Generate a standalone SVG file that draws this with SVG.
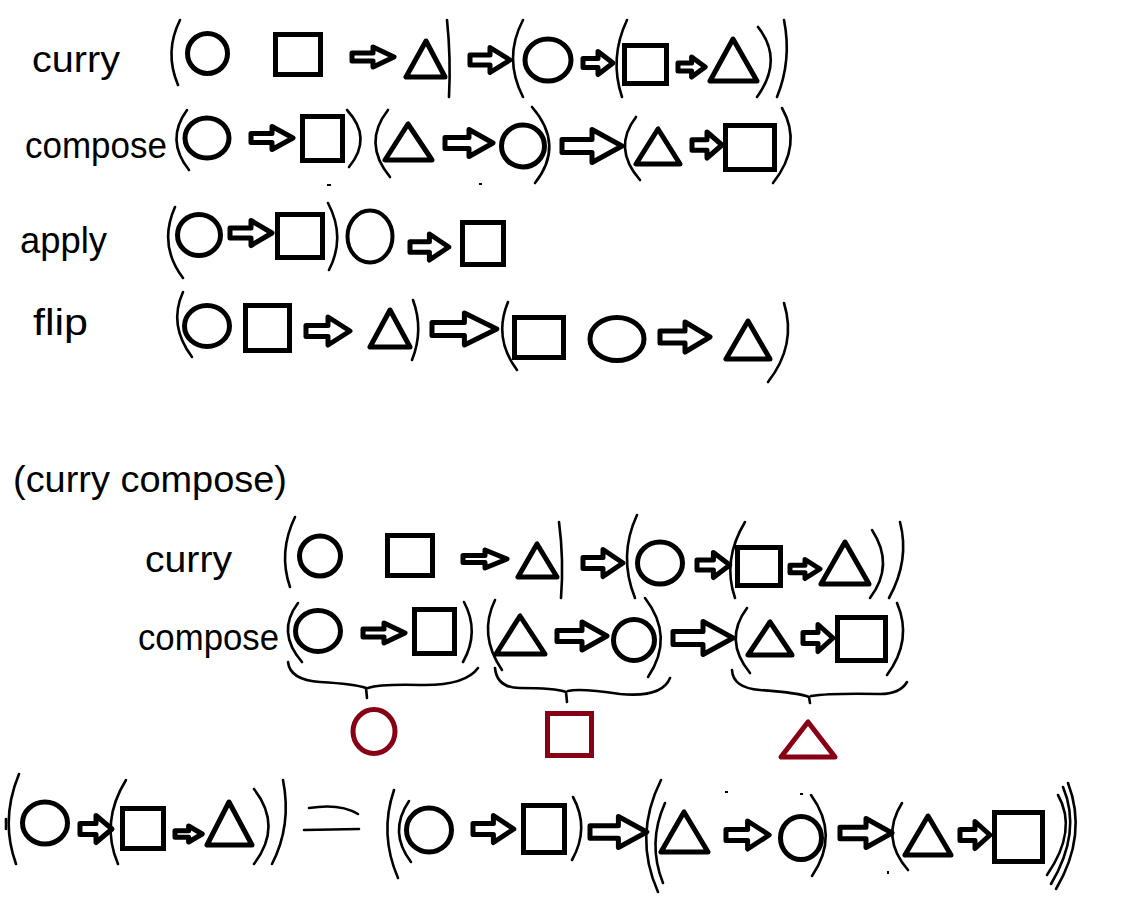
<svg xmlns="http://www.w3.org/2000/svg" xmlns:xlink="http://www.w3.org/1999/xlink" width="1144" height="918" viewBox="0 0 1144 918">
<style>
.bg{fill:#ffffff}
.lbl{font-family:"Liberation Sans","DejaVu Sans",sans-serif;font-size:36px;fill:#000}
.sh{fill:none;stroke:#000;stroke-width:5;stroke-linejoin:round}
.sq{fill:none;stroke:#000;stroke-width:5;stroke-linejoin:miter}
.red{stroke:#880015}
.pr{fill:none;stroke:#000;stroke-width:2.6;stroke-linecap:round}
.ar{fill:#fff;stroke:#000;stroke-width:5;stroke-linejoin:round}
</style>
<defs>
<path id="arr" class="ar" vector-effect="non-scaling-stroke" d="M0,-4 H20 V-10 L40,0 L20,10 V4 H0 Z"/>
</defs>
<rect class="bg" width="1144" height="918"/>

<g id="labels">
<text class="lbl" x="32" y="72" textLength="88" lengthAdjust="spacingAndGlyphs">curry</text>
<text class="lbl" x="25" y="158" textLength="142" lengthAdjust="spacingAndGlyphs">compose</text>
<text class="lbl" x="20" y="253" textLength="87" lengthAdjust="spacingAndGlyphs">apply</text>
<text class="lbl" x="33" y="335" textLength="55" lengthAdjust="spacingAndGlyphs">flip</text>
<text class="lbl" x="13" y="492" textLength="274" lengthAdjust="spacingAndGlyphs">(curry compose)</text>
<text class="lbl" x="145" y="572" textLength="87" lengthAdjust="spacingAndGlyphs">curry</text>
<text class="lbl" x="138" y="650" textLength="141" lengthAdjust="spacingAndGlyphs">compose</text>
</g>

<g id="row-curry">
<path class="pr" d="M180,20 Q164,52 178,85"/>
<ellipse class="sh" cx="207.5" cy="53.5" rx="20" ry="20"/>
<rect class="sq" x="275.5" y="34.5" width="45" height="40"/>
<use href="#arr" transform="translate(352,57) scale(1.05,1)"/>
<polygon class="sh" points="426,41 406,77 445,77"/>
<path class="pr" d="M447,20 Q451,58 449,97"/>
<use href="#arr" transform="translate(470,60) scale(1,1.25)"/>
<path class="pr" d="M523,20 Q503,58 523,97"/>
<ellipse class="sh" cx="548" cy="60" rx="23" ry="21"/>
<use href="#arr" transform="translate(583,63) scale(0.75,1.15)"/>
<path class="pr" d="M627,20 Q609,58 622,97"/>
<rect class="sq" x="624.5" y="45.5" width="42" height="38"/>
<use href="#arr" transform="translate(678,67) scale(0.68,1)"/>
<polygon class="sh" points="733,39 710,81 757,81"/>
<path class="pr" d="M758,27 Q784,60 757,97"/>
<path class="pr" d="M784,20 Q792,60 777,97"/>
</g>

<g id="row-compose">
<path class="pr" d="M187,110 Q165,140 189,170"/>
<ellipse class="sh" cx="207" cy="138" rx="22" ry="20"/>
<use href="#arr" transform="translate(251,138) scale(1.05,1.15)"/>
<rect class="sq" x="302.5" y="116.5" width="40" height="44"/>
<path class="pr" d="M347,110 Q373,138 349,167"/>
<path class="pr" d="M388,110 Q362,143 390,177"/>
<polygon class="sh" points="408,124 385,160 432,160"/>
<use href="#arr" transform="translate(445,143) scale(1.2,1.35)"/>
<ellipse class="sh" cx="523" cy="146" rx="21.5" ry="21"/>
<path class="pr" d="M532,107 Q565,145 535,183"/>
<use href="#arr" transform="translate(562,146) scale(1.5,1.65)"/>
<path class="pr" d="M636,117 Q612,148 640,180"/>
<polygon class="sh" points="658,129 636,164 680,164"/>
<use href="#arr" transform="translate(692,145) scale(0.75,1.3)"/>
<rect class="sq" x="725.5" y="125.5" width="49" height="44"/>
<path class="pr" d="M782,108 Q803,145 773,183"/>
<rect x="327" y="184" width="4" height="2" fill="#000"/>
<rect x="479" y="183" width="3" height="2" fill="#000"/>
</g>

<g id="row-apply">
<path class="pr" d="M175,207 Q158,245 183,278"/>
<ellipse class="sh" cx="199" cy="235" rx="21.5" ry="20.5"/>
<use href="#arr" transform="translate(230,233) scale(1.05,1.25)"/>
<rect class="sq" x="277.5" y="214.5" width="45" height="43"/>
<path class="pr" d="M328,203 Q346,237 329,270"/>
<ellipse class="sh" cx="370" cy="236.5" rx="22.5" ry="26" style="stroke-width:4"/>
<use href="#arr" transform="translate(410,247) scale(0.97,1.3)"/>
<rect class="sq" x="462.5" y="222.5" width="41" height="42"/>
</g>

<g id="row-flip">
<path class="pr" d="M183,292 Q168,325 192,357"/>
<ellipse class="sh" cx="207" cy="326" rx="22.5" ry="20.5"/>
<rect class="sq" x="245.5" y="305.5" width="44" height="45"/>
<use href="#arr" transform="translate(306,331) scale(1.1,1.4)"/>
<polygon class="sh" points="390,310 370,347 410,347"/>
<path class="pr" d="M413,300 Q424,330 412,360"/>
<use href="#arr" transform="translate(432,329) scale(1.62,1.6)"/>
<path class="pr" d="M508,302 Q493,338 517,370"/>
<rect class="sq" x="514.5" y="317.5" width="49" height="40"/>
<ellipse class="sh" cx="617" cy="339" rx="27" ry="21.5"/>
<use href="#arr" transform="translate(660,337) scale(1.25,1.5)"/>
<polygon class="sh" points="748,321 726,359 770,359"/>
<path class="pr" d="M784,303 Q797,345 768,382"/>
</g>

<g id="row-curry-2">
<path class="pr" d="M295,517 Q278,552 290,587"/>
<ellipse class="sh" cx="320" cy="556" rx="20.5" ry="20"/>
<rect class="sq" x="387.5" y="535.5" width="45" height="40"/>
<use href="#arr" transform="translate(463,559) scale(1.1,0.9)"/>
<polygon class="sh" points="537,544 518,577 557,577"/>
<path class="pr" d="M559,522 Q564,560 561,598"/>
<use href="#arr" transform="translate(583,563) scale(1,1.35)"/>
<path class="pr" d="M637,515 Q618,556 635,598"/>
<ellipse class="sh" cx="660" cy="563" rx="22.5" ry="21"/>
<use href="#arr" transform="translate(697,565) scale(0.82,1.25)"/>
<path class="pr" d="M745,522 Q722,560 735,598"/>
<rect class="sq" x="737.5" y="547.5" width="43" height="38"/>
<use href="#arr" transform="translate(790,569) scale(0.75,0.95)"/>
<polygon class="sh" points="845,542 821,584 869,584"/>
<path class="pr" d="M872,530 Q895,565 870,598"/>
<path class="pr" d="M900,522 Q910,560 889,598"/>
</g>

<g id="row-compose-2">
<path class="pr" d="M298,603 Q276,632 302,662"/>
<ellipse class="sh" cx="318" cy="631" rx="22.5" ry="20.5"/>
<use href="#arr" transform="translate(363,633) scale(1.05,1)"/>
<rect class="sq" x="414.5" y="609.5" width="40" height="44"/>
<path class="pr" d="M464,602 Q480,632 463,662"/>
<path class="pr" d="M495,600 Q478,635 502,670"/>
<polygon class="sh" points="520,616 496,654 545,654"/>
<use href="#arr" transform="translate(557,636) scale(1.25,1.4)"/>
<ellipse class="sh" cx="634" cy="640" rx="20.5" ry="20.5"/>
<path class="pr" d="M645,598 Q675,637 648,677"/>
<use href="#arr" transform="translate(673,638) scale(1.5,1.65)"/>
<path class="pr" d="M747,608 Q723,640 750,673"/>
<polygon class="sh" points="770,622 748,655 792,655"/>
<use href="#arr" transform="translate(803,638) scale(0.75,1.35)"/>
<rect class="sq" x="837.5" y="617.5" width="48" height="43"/>
<path class="pr" d="M897,603 Q913,640 887,675"/>
</g>

<g id="braces">
<path class="pr" d="M288,662 Q290,680 320,682 Q355,684 366,688 L367,698 M368,688 Q380,684 420,685 Q465,686 478,668"/>
<path class="pr" d="M495,668 Q497,688 520,688 Q555,688 566,692 L567,702 M568,691 Q580,688 620,694 Q662,698 670,678"/>
<path class="pr" d="M732,670 Q733,688 760,690 Q800,693 809,697 L810,703 M811,696 Q830,693 880,694 Q900,694 907,682"/>
</g>

<g id="results">
<ellipse class="sh red" cx="374" cy="731.5" rx="21" ry="22"/>
<rect class="sq red" x="547.5" y="713.5" width="44" height="42"/>
<polygon class="sh red" points="808,722 781,757 835,757"/>
</g>

<g id="row-equation">
<path class="pr" d="M19,774 Q0,820 16,864"/>
<path class="pr" d="M6,819 L6,829"/>
<ellipse class="sh" cx="45" cy="823" rx="22.5" ry="21"/>
<use href="#arr" transform="translate(80,829) scale(0.8,1.35)"/>
<path class="pr" d="M126,780 Q100,822 118,864"/>
<rect class="sq" x="122.5" y="808.5" width="41" height="40"/>
<use href="#arr" transform="translate(175,834) scale(0.68,0.8)"/>
<polygon class="sh" points="229,802 207,845 252,845"/>
<path class="pr" d="M254,789 Q283,826 254,864"/>
<path class="pr" d="M283,780 Q292,825 272,864"/>
<path class="pr" d="M309,808 Q340,803 358,814"/>
<path class="pr" d="M304,830 L359,829"/>
<path class="pr" d="M394,790 Q379,834 398,878"/>
<path class="pr" d="M409,801 Q388,832 411,862"/>
<ellipse class="sh" cx="429" cy="830" rx="22.5" ry="22"/>
<use href="#arr" transform="translate(473,829) scale(1.02,1.35)"/>
<rect class="sq" x="523.5" y="805.5" width="41" height="47"/>
<path class="pr" d="M573,797 Q590,828 572,860"/>
<use href="#arr" transform="translate(590,832) scale(1.42,1.55)"/>
<path class="pr" d="M661,780 Q633,836 658,892"/>
<path class="pr" d="M665,803 Q647,843 663,883"/>
<polygon class="sh" points="684,812 661,852 708,852"/>
<use href="#arr" transform="translate(726,835) scale(1.08,1.4)"/>
<ellipse class="sh" cx="801" cy="838" rx="20.5" ry="21.5"/>
<path class="pr" d="M811,795 Q840,835 812,876"/>
<rect x="725" y="791" width="3" height="2" fill="#000"/>
<rect x="800" y="793" width="3" height="2" fill="#000"/>
<use href="#arr" transform="translate(840,833) scale(1.3,1.45)"/>
<path class="pr" d="M902,803 Q880,838 908,870"/>
<rect x="887" y="871" width="2" height="3" fill="#000"/>
<polygon class="sh" points="928,816 905,855 951,855"/>
<use href="#arr" transform="translate(960,835) scale(0.75,1.35)"/>
<rect class="sq" x="994.5" y="812.5" width="48" height="49"/>
<path class="pr" d="M1058,795 Q1078,830 1047,875"/>
<path class="pr" d="M1063,787 Q1082,832 1051,884"/>
<path class="pr" d="M1068,783 Q1088,835 1056,889"/>
</g>
</svg>
